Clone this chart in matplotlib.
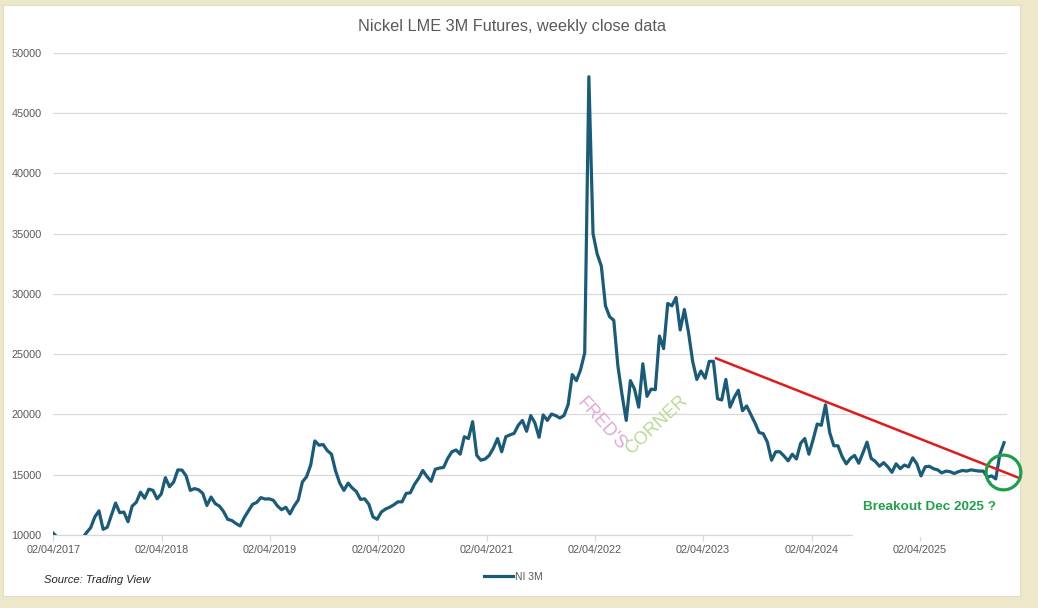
import matplotlib
matplotlib.use("Agg")
import matplotlib.pyplot as plt
import matplotlib.dates as mdates
from matplotlib.patches import Rectangle
from matplotlib.lines import Line2D
import pandas as pd

plt.rcParams['font.family'] = ['Liberation Sans', 'DejaVu Sans']

# ---------------- data ----------------
start_date = "2017-04-02"
values = [
    10140, 9800, 9600, 9400, 9200, 9000, 9100, 9700, 10200, 10600,
    11500, 12000, 10470, 10640, 11650, 12650, 11850, 11900, 11100, 12400,
    12720, 13550, 13050, 13800, 13700, 13000, 13400, 14750, 14000, 14400,
    15400, 15380, 14900, 13700, 13850, 13750, 13450, 12450, 13150, 12600,
    12400, 11950, 11300, 11200, 10950, 10750, 11450, 12000, 12550, 12700,
    13100, 12980, 13000, 12880, 12400, 12100, 12300, 11750, 12400, 12900,
    14400, 14830, 15800, 17800, 17450, 17500, 17000, 16700, 15300, 14300,
    13700, 14300, 13900, 13600, 12950, 13000, 12550, 11500, 11300, 11900,
    12150, 12300, 12500, 12750, 12750, 13450, 13500, 14200, 14700, 15350,
    14850, 14450, 15450, 15550, 15600, 16350, 16900, 17050, 16700, 18150,
    18000, 19400, 16600, 16200, 16300, 16600, 17200, 18000, 16900, 18150,
    18300, 18430, 19100, 19500, 18600, 19900, 19300, 18100, 19950, 19500,
    20030, 19900, 19700, 19900, 20800, 23300, 22800, 23700, 25100, 48000,
    35000, 33300, 32300, 29000, 28100, 27800, 24000, 21600, 19500, 22800,
    22100, 20600, 24200, 21500, 22100, 22050, 26500, 25450, 29200, 29000,
    29700, 27000, 28700, 26800, 24400, 22900, 23600, 23000, 24400, 24400,
    21300, 21200, 22900, 20600, 21400, 22000, 20300, 20700, 20000, 19300,
    18500, 18400, 17700, 16200, 16900, 16900, 16550, 16150, 16700, 16300,
    17600, 18000, 16700, 17900, 19200, 19100, 20800, 18500, 17400, 17400,
    16500, 15900, 16350, 16600, 15950, 16800, 17700, 16350, 16100, 15700,
    16000, 15650, 15200, 15900, 15500, 15800, 15650, 16400, 15900, 14900,
    15650, 15700, 15500, 15400, 15150, 15300, 15250, 15100, 15250, 15350,
    15300, 15400, 15350, 15300, 15300, 14800, 14900, 14650, 16700, 17650,
]
dates = pd.date_range(start_date, periods=len(values), freq="14D")

series_name = "NI 3M"
title = "Nickel LME 3M Futures, weekly close data"
y_ticks = [10000, 15000, 20000, 25000, 30000, 35000, 40000, 45000, 50000]
x_tick_dates = pd.to_datetime([f"{y}-04-02" for y in range(2017, 2026)])

trend_dates = pd.to_datetime(["2023-05-16", "2026-03-06"])
trend_values = [24650, 14700]
circle_date = pd.Timestamp("2026-01-06")
circle_value = 15265
note_date = pd.Timestamp("2025-05-03")
note_value = 12346
note_text = "Breakout Dec 2025 ?"
source_text = "Source: Trading View"

# ---------------- figure ----------------
W, H = 1038, 608
fig = plt.figure(figsize=(W / 100, H / 100), dpi=100)
fig.patch.set_facecolor("#ECE8C9")
panel = Rectangle((3 / W, 1 - 596 / H), (1020 - 3) / W, (596 - 5) / H,
                  transform=fig.transFigure, facecolor="white",
                  edgecolor="#e2dfc8", lw=0.8, zorder=-10)
fig.patches.append(panel)

ax = fig.add_axes([53.3 / W, 1 - 535 / H, (1007 - 53.3) / W, (535 - 52.6) / H])
ax.set_zorder(5)
ax.set_facecolor("none")

line_color = "#1B5B7A"
ax.plot(dates, values, color=line_color, lw=2.3, solid_joinstyle="round", zorder=3)

ax.set_ylim(10000, 50000)
ax.set_xlim(pd.Timestamp(start_date), pd.Timestamp(start_date) + pd.Timedelta(days=3216))
ax.set_yticks(y_ticks)
ax.set_yticklabels([str(v) for v in y_ticks])
ax.set_xticks(x_tick_dates)
ax.xaxis.set_major_formatter(mdates.DateFormatter("%d/%m/%Y"))
ax.set_axisbelow(True)
ax.grid(axis="y", color="#D9D9D9", lw=0.9)
for s in ["top", "right", "left"]:
    ax.spines[s].set_visible(False)
ax.spines["bottom"].set_color("#D9D9D9")
ax.spines["bottom"].set_linewidth(0.9)
ax.tick_params(axis="y", length=0, pad=8.4, labelsize=7.8, labelcolor="#595959")
ax.tick_params(axis="x", length=4, width=0.9, color="#D9D9D9", pad=3,
               labelsize=7.8, labelcolor="#595959")

# white box hiding the axis line under the note
cover = Rectangle((853 / W, 1 - 536.5 / H), (1008 - 853) / W, (536.5 - 490) / H,
                  transform=fig.transFigure, facecolor="white", edgecolor="none",
                  zorder=2.7, clip_on=False)
ax.add_patch(cover)

# trend line & circle annotation
ax.plot(trend_dates, trend_values, color="#E01B1B", lw=1.8, clip_on=False, zorder=4)
ax.plot([circle_date], [circle_value], marker="o", ms=25, mfc="none",
        mec="#1E9E4A", mew=2.3, clip_on=False, zorder=5)

ax.text(note_date, note_value, note_text, ha="center", va="center",
        fontsize=9.7, fontweight="bold", color="#22A04B", zorder=6)

# title
fig.text(511.5 / W, 1 - 27 / H, title, ha="center", va="center",
         fontsize=11.7, color="#595959")

# watermark
fig.text(601 / W, 1 - 424 / H, "FRED'S", ha="center", va="center", rotation=-48,
         rotation_mode="anchor", fontsize=13, color="#E2A6D6", zorder=10)
fig.text(657 / W, 1 - 425 / H, "CORNER", ha="center", va="center", rotation=43,
         rotation_mode="anchor", fontsize=13, color="#B9D995", zorder=10)

# legend
handle = Line2D([], [], color=line_color, lw=2.3)
fig.legend([handle], [series_name], loc="center", bbox_to_anchor=(513 / W, 1 - 577 / H),
           frameon=False, fontsize=7.5, labelcolor="#595959", handlelength=2.8,
           handletextpad=0.2)

# source
fig.text(44 / W, 1 - 580 / H, source_text, ha="left", va="center",
         fontsize=8.1, style="italic", color="#262626")

fig.savefig("out.png", dpi=100, facecolor=fig.get_facecolor())
